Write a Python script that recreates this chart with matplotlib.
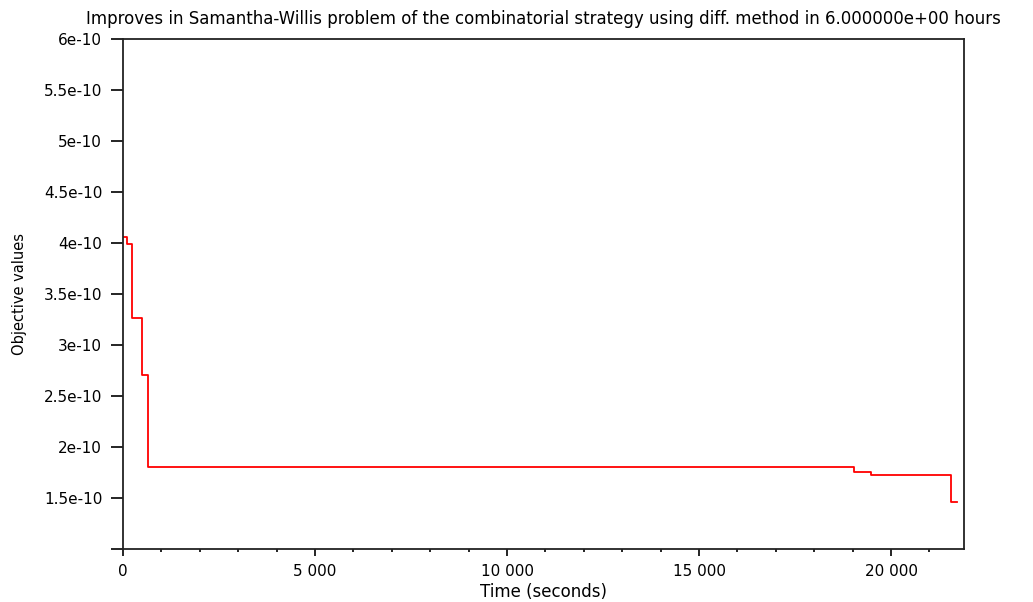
import matplotlib.pyplot as plt
from matplotlib.ticker import FixedLocator, MultipleLocator

# improvement history: time (s) and objective value after each improvement
times = [0, 96, 242, 487, 643, 19045, 19479, 21555, 21711]
values = [4.06e-10, 3.99e-10, 3.26e-10, 2.71e-10, 1.807e-10,
          1.752e-10, 1.722e-10, 1.461e-10, 1.461e-10]

xticks = [0, 5000, 10000, 15000, 20000]
xticklabels = ["0", "5 000", "10 000", "15 000", "20 000"]
yticks = [1e-10, 1.5e-10, 2e-10, 2.5e-10, 3e-10, 3.5e-10, 4e-10, 4.5e-10, 5e-10, 5.5e-10, 6e-10]
yticklabels = ["", "1.5e-10", "2e-10", "2.5e-10", "3e-10", "3.5e-10",
               "4e-10", "4.5e-10", "5e-10", "5.5e-10", "6e-10"]

title = ("Improves in Samantha-Willis problem of the combinatorial strategy "
         "using diff. method in 6.000000e+00 hours")

fig = plt.figure(figsize=(10.33, 6.02), dpi=100)
ax = fig.add_axes([0.1191, 0.0880, 0.8141, 0.8472])

ax.plot(times, values, color="#ff0000", linewidth=1.3, drawstyle="steps-post")

ax.set_xlim(0, 21900)
ax.set_ylim(1e-10, 6e-10)

ax.xaxis.set_major_locator(FixedLocator(xticks))
ax.set_xticklabels(xticklabels)
ax.xaxis.set_minor_locator(MultipleLocator(1000))
ax.yaxis.set_major_locator(FixedLocator(yticks))
ax.set_yticklabels(yticklabels)

ax.tick_params(axis="x", which="major", direction="out", length=5, width=1.2,
               labelsize=11, pad=6)
ax.tick_params(axis="x", which="minor", direction="out", length=2.5, width=1.2)
ax.tick_params(axis="y", which="major", direction="out", length=9, width=1.2,
               labelsize=11, pad=6)

for s in ax.spines.values():
    s.set_linewidth(1.3)
    s.set_color("#222222")

ax.set_title(title, fontsize=12, pad=11)
ax.set_xlabel("Time (seconds)", fontsize=12, labelpad=3)
ax.set_ylabel("Objective values", fontsize=10.5, family=["Liberation Sans Narrow", "DejaVu Sans"],
              labelpad=12)

fig.savefig("out.png", dpi=100)
